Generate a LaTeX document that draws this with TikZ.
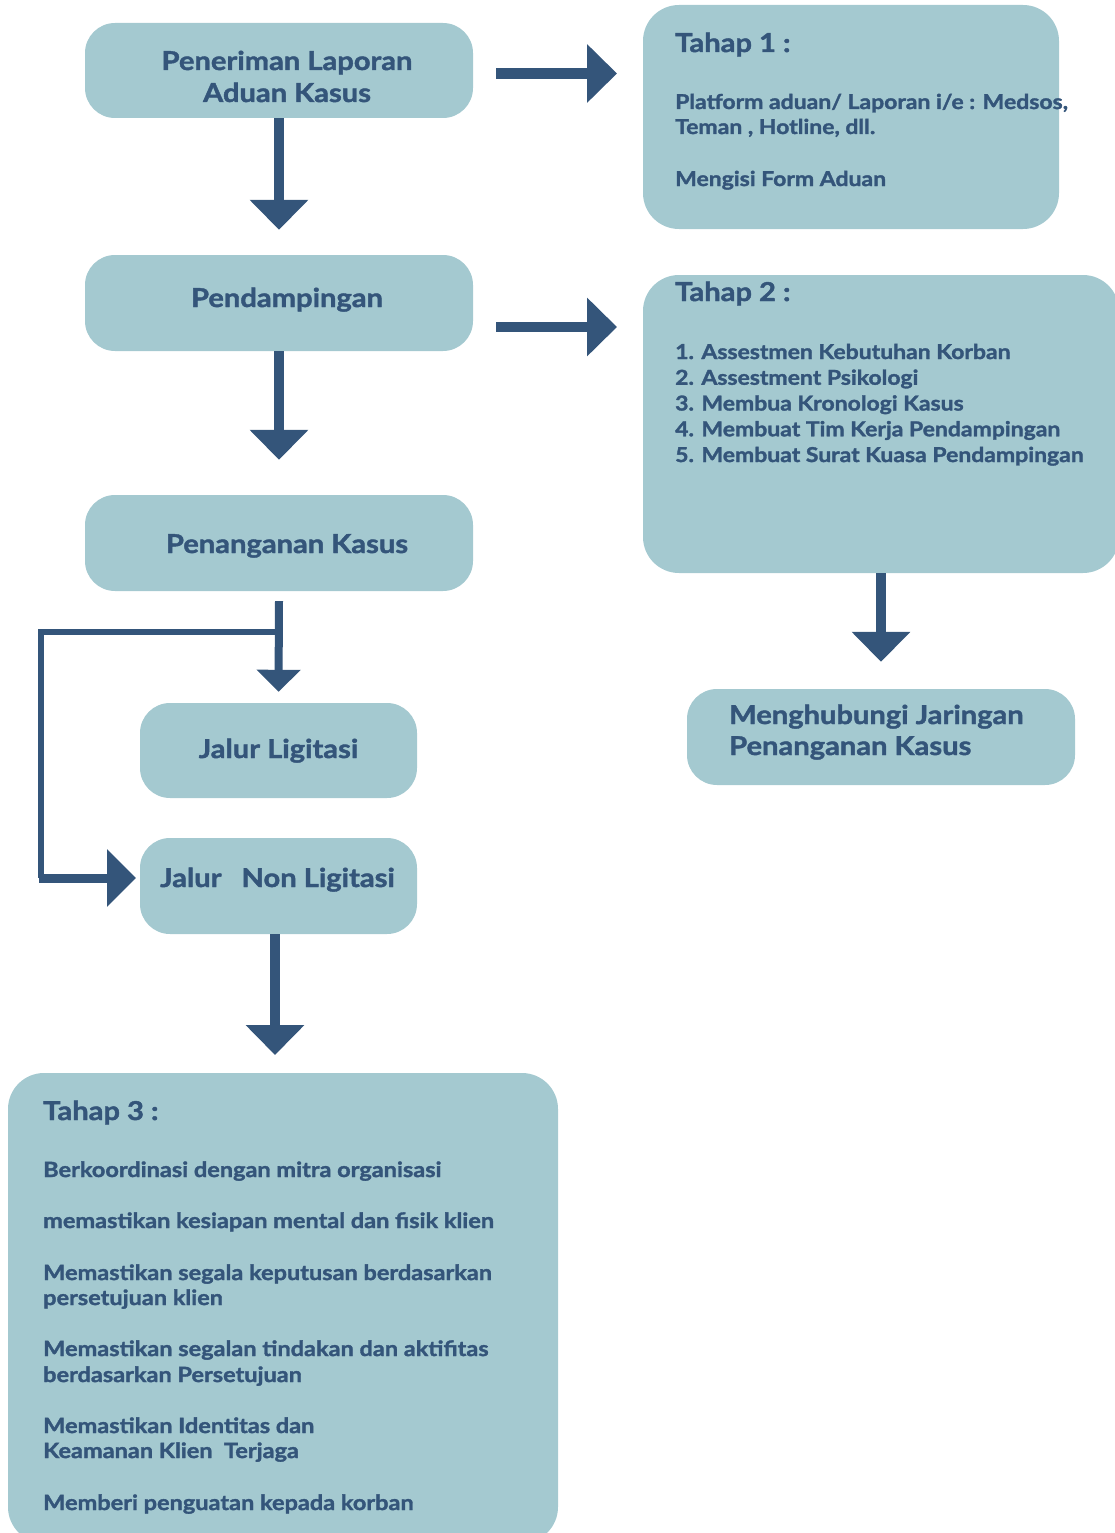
\documentclass[tikz,border=0pt]{standalone}
\usepackage{fontspec}
\setmainfont{Lato}[BoldFeatures={FakeStretch=1.12, FakeBold=1.6}]
\usetikzlibrary{arrows.meta}
\definecolor{boxfill}{HTML}{A4C9D0}
\definecolor{ink}{HTML}{34557A}
\tikzset{
  box/.style={fill=boxfill, rounded corners=30pt, inner sep=0pt},
  bigbox/.style={fill=boxfill, rounded corners=36pt, inner sep=0pt},
  ttl/.style={text=ink, font=\fontsize{26}{32}\selectfont\bfseries, inner sep=0pt, anchor=base},
  ttlw/.style={text=ink, font=\fontsize{26}{32}\selectfont\bfseries, inner sep=0pt, anchor=base west},
  body/.style={text=ink, font=\fontsize{20.5}{26}\selectfont\bfseries, inner sep=0pt, anchor=base west},
  bodyt/.style={text=ink, font=\fontsize{21}{26}\selectfont\bfseries, inner sep=0pt, anchor=base west},
  arr/.style={draw=ink, line width=10.5pt, -{Triangle[length=30pt,width=57pt]}},
  arrsmall/.style={draw=ink, line width=8pt, -{Triangle[length=22pt,width=43pt]}},
  looppath/.style={draw=ink, line width=5.5pt, line join=miter},
  arrloop/.style={draw=ink, line width=9pt, -{Triangle[length=29pt,width=56pt]}},
}
\begin{document}
\begin{tikzpicture}[x=1pt,y=-1pt]
\useasboundingbox (0,0) rectangle (1115,1533);

% boxes
\node[box, minimum width=388pt, minimum height=95pt] (b1) at (279,70.5) {};
\node[box, minimum width=388pt, minimum height=96pt] (b2) at (279,303) {};
\node[box, minimum width=388pt, minimum height=96pt] (b3) at (279,543) {};
\node[box, minimum width=277pt, minimum height=95pt] (jl) at (278.5,750.5) {};
\node[box, minimum width=277pt, minimum height=96pt] (nl) at (278.5,886) {};
\node[bigbox, minimum width=416pt, minimum height=224pt] (t1) at (851,117) {};
\node[bigbox, minimum width=476pt, minimum height=298pt] (t2) at (881,424) {};
\node[box, minimum width=388pt, minimum height=96pt] (mh) at (881,737) {};
\node[bigbox, minimum width=550pt, minimum height=470pt] (t3) at (283,1308) {};

% box texts
\node[ttl] (tx1a) at (287,70) {Peneriman Laporan};
\node[ttl] (tx1b) at (287,102) {Aduan Kasus};
\node[ttl] (tx2) at (287,307) {Pendampingan};
\node[ttl] (tx3) at (287,553) {Penanganan Kasus};
\node[ttl] (txjl) at (278.5,758) {Jalur Ligitasi};
\node[ttlw] (txnl) at (160,887) {Jalur\hspace{20pt}Non Ligitasi};
\node[ttlw] (txmh1) at (729,724) {Menghubungi Jaringan};
\node[ttlw] (txmh2) at (729,755) {Penanganan Kasus};

% Tahap 1
\node[ttlw] (h1) at (675,52) {Tahap 1 :};
\node[body] (p1a) at (675,109) {Platform aduan/ Laporan i/e : Medsos,};
\node[body] (p1b) at (675,134) {Teman , Hotline, dll.};
\node[body] (p1c) at (675,186) {Mengisi Form Aduan};

% Tahap 2
\node[ttlw] (h2) at (675,301) {Tahap 2 :};
\node[body] (p2a) at (675,359) {1. Assestmen Kebutuhan Korban};
\node[body] (p2b) at (675,384.75) {2. Assestment Psikologi};
\node[body] (p2c) at (675,410.5) {3. Membua Kronologi Kasus};
\node[body] (p2d) at (675,436.25) {4. Membuat Tim Kerja Pendampingan};
\node[body] (p2e) at (675,462) {5. Membuat Surat Kuasa Pendampingan};

% Tahap 3
\node[ttlw] (h3) at (43,1120) {Tahap 3 :};
\node[bodyt] (p3a) at (43,1177) {Berkoordinasi dengan mitra organisasi};
\node[bodyt] (p3b) at (43,1228) {memastikan kesiapan mental dan fisik klien};
\node[bodyt] (p3c) at (43,1280) {Memastikan segala keputusan berdasarkan};
\node[bodyt] (p3d) at (43,1305) {persetujuan klien};
\node[bodyt] (p3e) at (43,1356) {Memastikan segalan tindakan dan aktifitas};
\node[bodyt] (p3f) at (43,1382) {berdasarkan Persetujuan};
\node[bodyt] (p3g) at (43,1433) {Memastikan Identitas dan};
\node[bodyt] (p3h) at (43,1458) {Keamanan Klien~ Terjaga};
\node[bodyt] (p3i) at (43,1510) {Memberi penguatan kepada korban};

% connector coordinates
\coordinate (a1s) at (496,73.5);
\coordinate (a1e) at (617,73.5);
\coordinate (a2s) at (496,327);
\coordinate (a2e) at (617,327);
\coordinate (jn) at (279,632);
\coordinate (lc1) at (41,632);
\coordinate (lc2) at (41,878);
\coordinate (lc3) at (38.5,878);
\coordinate (nlin) at (136,878);
\coordinate (ns) at (275,934);
\coordinate (t3in) at (275,1055);

% connectors
\draw[arr] (b1.south) -- ([yshift=25pt]b2.north);
\draw[arr] (b2.south) -- ([yshift=35pt]b3.north);
\draw[arrsmall] ([yshift=-10pt]b3.south) -- ([yshift=11pt]jl.north);
\draw[looppath] (jn) -- (lc1) -- (lc2);
\draw[arrloop] (lc3) -- (nlin);
\draw[arr] (ns) -- (t3in);
\draw[arr] (a1s) -- (a1e);
\draw[arr] (a2s) -- (a2e);
\draw[arr] (t2.south) -- ([yshift=27pt]mh.north);
\end{tikzpicture}
\end{document}
